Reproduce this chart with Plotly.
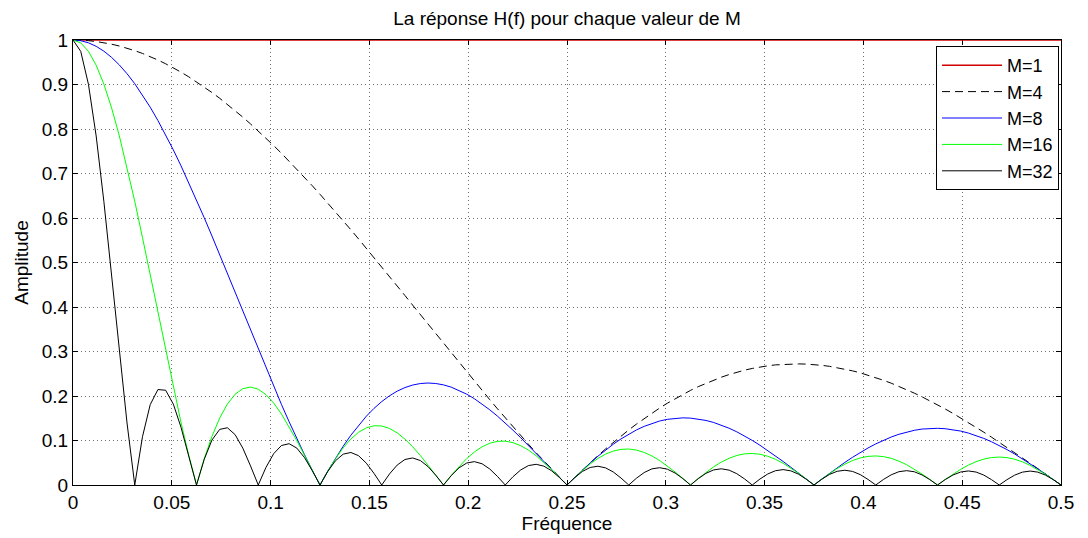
import plotly.graph_objects as go

# Frequency sampling grid (f = 0 .. 0.5)
freq = [
    0.0, 0.003906, 0.007813, 0.011719, 0.015625, 0.019531, 0.023438, 0.027344,
    0.03125, 0.035156, 0.039063, 0.042969, 0.046875, 0.050781, 0.054688, 0.058594,
    0.0625, 0.066406, 0.070313, 0.074219, 0.078125, 0.082031, 0.085938, 0.089844,
    0.09375, 0.097656, 0.101563, 0.105469, 0.109375, 0.113281, 0.117188, 0.121094,
    0.125, 0.128906, 0.132813, 0.136719, 0.140625, 0.144531, 0.148438, 0.152344,
    0.15625, 0.160156, 0.164063, 0.167969, 0.171875, 0.175781, 0.179688, 0.183594,
    0.1875, 0.191406, 0.195313, 0.199219, 0.203125, 0.207031, 0.210938, 0.214844,
    0.21875, 0.222656, 0.226563, 0.230469, 0.234375, 0.238281, 0.242188, 0.246094,
    0.25, 0.253906, 0.257813, 0.261719, 0.265625, 0.269531, 0.273438, 0.277344,
    0.28125, 0.285156, 0.289063, 0.292969, 0.296875, 0.300781, 0.304688, 0.308594,
    0.3125, 0.316406, 0.320313, 0.324219, 0.328125, 0.332031, 0.335938, 0.339844,
    0.34375, 0.347656, 0.351563, 0.355469, 0.359375, 0.363281, 0.367188, 0.371094,
    0.375, 0.378906, 0.382813, 0.386719, 0.390625, 0.394531, 0.398438, 0.402344,
    0.40625, 0.410156, 0.414063, 0.417969, 0.421875, 0.425781, 0.429688, 0.433594,
    0.4375, 0.441406, 0.445313, 0.449219, 0.453125, 0.457031, 0.460938, 0.464844,
    0.46875, 0.472656, 0.476563, 0.480469, 0.484375, 0.488281, 0.492188, 0.496094,
    0.5,
]

freq_m1 = [0.0, 0.5]
amp_m1 = [1.0, 1.0]

amp_m4 = [
    1.0, 0.9996, 0.9985, 0.9966, 0.9940, 0.9906, 0.9865, 0.9816,
    0.9761, 0.9698, 0.9627, 0.9550, 0.9466, 0.9375, 0.9277, 0.9172,
    0.9061, 0.8944, 0.8820, 0.8691, 0.8555, 0.8414, 0.8267, 0.8114,
    0.7957, 0.7794, 0.7627, 0.7455, 0.7278, 0.7098, 0.6913, 0.6725,
    0.6533, 0.6338, 0.6139, 0.5938, 0.5735, 0.5529, 0.5321, 0.5111,
    0.4900, 0.4687, 0.4473, 0.4259, 0.4043, 0.3828, 0.3612, 0.3397,
    0.3182, 0.2968, 0.2754, 0.2542, 0.2332, 0.2123, 0.1916, 0.1711,
    0.1508, 0.1308, 0.1111, 0.0917, 0.0726, 0.0539, 0.0355, 0.0176,
    0.0, 0.0171, 0.0338, 0.0501, 0.0658, 0.0811, 0.0958, 0.1101,
    0.1238, 0.1369, 0.1495, 0.1615, 0.1729, 0.1838, 0.1940, 0.2036,
    0.2126, 0.2210, 0.2287, 0.2359, 0.2423, 0.2482, 0.2534, 0.2580,
    0.2619, 0.2652, 0.2678, 0.2699, 0.2712, 0.2720, 0.2721, 0.2717,
    0.2706, 0.2689, 0.2667, 0.2638, 0.2604, 0.2565, 0.2520, 0.2469,
    0.2414, 0.2353, 0.2288, 0.2218, 0.2143, 0.2064, 0.1981, 0.1893,
    0.1802, 0.1708, 0.1610, 0.1508, 0.1404, 0.1297, 0.1187, 0.1075,
    0.0961, 0.0845, 0.0728, 0.0609, 0.0488, 0.0367, 0.0245, 0.0123,
    0.0,
]

amp_m8 = [
    1.0, 0.9984, 0.9937, 0.9858, 0.9749, 0.9609, 0.9440, 0.9243,
    0.9018, 0.8767, 0.8491, 0.8191, 0.7871, 0.7530, 0.7171, 0.6796,
    0.6407, 0.6006, 0.5596, 0.5177, 0.4753, 0.4325, 0.3897, 0.3469,
    0.3045, 0.2626, 0.2214, 0.1811, 0.1420, 0.1041, 0.0678, 0.0330,
    0.0, 0.0311, 0.0602, 0.0871, 0.1119, 0.1343, 0.1545, 0.1722,
    0.1875, 0.2004, 0.2109, 0.2189, 0.2246, 0.2280, 0.2292, 0.2281,
    0.2250, 0.2199, 0.2129, 0.2042, 0.1939, 0.1821, 0.1689, 0.1546,
    0.1393, 0.1232, 0.1063, 0.0890, 0.0712, 0.0533, 0.0354, 0.0175,
    0.0, 0.0171, 0.0337, 0.0495, 0.0646, 0.0787, 0.0917, 0.1036,
    0.1143, 0.1238, 0.1318, 0.1385, 0.1438, 0.1476, 0.1500, 0.1509,
    0.1503, 0.1484, 0.1451, 0.1405, 0.1346, 0.1276, 0.1195, 0.1103,
    0.1002, 0.0893, 0.0777, 0.0656, 0.0529, 0.0399, 0.0267, 0.0133,
    0.0, 0.0132, 0.0261, 0.0387, 0.0508, 0.0623, 0.0731, 0.0832,
    0.0924, 0.1006, 0.1078, 0.1140, 0.1191, 0.1229, 0.1257, 0.1272,
    0.1274, 0.1265, 0.1244, 0.1212, 0.1167, 0.1113, 0.1047, 0.0972,
    0.0888, 0.0796, 0.0696, 0.0590, 0.0479, 0.0363, 0.0244, 0.0123,
    0.0,
]

amp_m16 = [
    1.0, 0.9936, 0.9746, 0.9434, 0.9007, 0.8475, 0.7849, 0.7145,
    0.6376, 0.5561, 0.4717, 0.3861, 0.3012, 0.2186, 0.1399, 0.0666,
    0.0, 0.0589, 0.1092, 0.1503, 0.1819, 0.2039, 0.2165, 0.2201,
    0.2153, 0.2030, 0.1841, 0.1597, 0.1312, 0.0997, 0.0665, 0.0328,
    0.0, 0.0309, 0.0590, 0.0834, 0.1034, 0.1185, 0.1284, 0.1331,
    0.1326, 0.1271, 0.1171, 0.1032, 0.0860, 0.0662, 0.0447, 0.0224,
    0.0, 0.0216, 0.0415, 0.0593, 0.0742, 0.0858, 0.0939, 0.0981,
    0.0985, 0.0952, 0.0884, 0.0785, 0.0658, 0.0510, 0.0347, 0.0175,
    0.0, 0.0170, 0.0330, 0.0474, 0.0596, 0.0694, 0.0763, 0.0801,
    0.0809, 0.0785, 0.0732, 0.0653, 0.0550, 0.0428, 0.0293, 0.0148,
    0.0, 0.0145, 0.0283, 0.0408, 0.0515, 0.0601, 0.0664, 0.0700,
    0.0709, 0.0691, 0.0646, 0.0578, 0.0489, 0.0382, 0.0262, 0.0133,
    0.0, 0.0131, 0.0256, 0.0370, 0.0469, 0.0550, 0.0608, 0.0643,
    0.0653, 0.0638, 0.0599, 0.0537, 0.0456, 0.0357, 0.0245, 0.0125,
    0.0, 0.0124, 0.0243, 0.0352, 0.0447, 0.0524, 0.0582, 0.0617,
    0.0628, 0.0615, 0.0579, 0.0521, 0.0442, 0.0347, 0.0239, 0.0122,
    0.0,
]

amp_m32 = [
    1.0, 0.9745, 0.9004, 0.7844, 0.6369, 0.4708, 0.3004, 0.1394,
    0.0, 0.1085, 0.1805, 0.2145, 0.2130, 0.1817, 0.1293, 0.0653,
    0.0, 0.0577, 0.1009, 0.1250, 0.1286, 0.1133, 0.0829, 0.0429,
    0.0, 0.0396, 0.0704, 0.0887, 0.0928, 0.0829, 0.0614, 0.0322,
    0.0, 0.0304, 0.0545, 0.0693, 0.0731, 0.0658, 0.0491, 0.0260,
    0.0, 0.0248, 0.0448, 0.0573, 0.0608, 0.0550, 0.0413, 0.0219,
    0.0, 0.0211, 0.0384, 0.0493, 0.0525, 0.0477, 0.0359, 0.0191,
    0.0, 0.0186, 0.0338, 0.0436, 0.0465, 0.0424, 0.0320, 0.0171,
    0.0, 0.0167, 0.0305, 0.0394, 0.0422, 0.0385, 0.0292, 0.0156,
    0.0, 0.0153, 0.0280, 0.0363, 0.0389, 0.0356, 0.0270, 0.0145,
    0.0, 0.0143, 0.0262, 0.0339, 0.0364, 0.0334, 0.0254, 0.0137,
    0.0, 0.0135, 0.0247, 0.0321, 0.0346, 0.0318, 0.0242, 0.0130,
    0.0, 0.0129, 0.0237, 0.0308, 0.0332, 0.0305, 0.0233, 0.0125,
    0.0, 0.0125, 0.0229, 0.0299, 0.0322, 0.0297, 0.0226, 0.0122,
    0.0, 0.0122, 0.0224, 0.0292, 0.0316, 0.0291, 0.0223, 0.0120,
    0.0, 0.0120, 0.0222, 0.0289, 0.0313, 0.0289, 0.0221, 0.0120,
    0.0,
]

series_names = ["M=1", "M=4", "M=8", "M=16", "M=32"]

x_tick_vals = [0, 0.05, 0.1, 0.15, 0.2, 0.25, 0.3, 0.35, 0.4, 0.45, 0.5]
x_tick_text = ["0", "0.05", "0.1", "0.15", "0.2", "0.25", "0.3", "0.35", "0.4", "0.45", "0.5"]
y_tick_vals = [0, 0.1, 0.2, 0.3, 0.4, 0.5, 0.6, 0.7, 0.8, 0.9, 1]
y_tick_text = ["0", "0.1", "0.2", "0.3", "0.4", "0.5", "0.6", "0.7", "0.8", "0.9", "1"]

FONT = "Liberation Sans, Arial, Helvetica, sans-serif"
FS = 19

fig = go.Figure()
fig.add_trace(go.Scatter(x=freq_m1, y=amp_m1, mode="lines", name=series_names[0],
                         line=dict(color="#d00000", width=1.5)))
fig.add_trace(go.Scatter(x=freq, y=amp_m4, mode="lines", name=series_names[1],
                         line=dict(color="black", width=1, dash="8px,5px")))
fig.add_trace(go.Scatter(x=freq, y=amp_m8, mode="lines", name=series_names[2],
                         line=dict(color="#0000ff", width=1)))
fig.add_trace(go.Scatter(x=freq, y=amp_m16, mode="lines", name=series_names[3],
                         line=dict(color="#00ff00", width=1)))
fig.add_trace(go.Scatter(x=freq, y=amp_m32, mode="lines", name=series_names[4],
                         line=dict(color="black", width=1)))

axis_common = dict(
    showline=True, linecolor="black", linewidth=1, mirror="ticks",
    ticks="inside", ticklen=5, tickcolor="black", tickwidth=1,
    showgrid=True, gridcolor="#707070", gridwidth=1, griddash="1px,3px",
    zeroline=False, tickfont=dict(size=FS, color="black", family=FONT),
    layer="below traces", automargin=False,
)

# page is rendered with an 8px body margin, so the figure is sized to fit the window
fig.update_layout(
    width=1080, height=530,
    margin=dict(l=65, r=27, t=32, b=53),
    paper_bgcolor="white", plot_bgcolor="white",
    font=dict(family=FONT, color="black", size=FS),
    title=dict(text="La réponse H(f) pour chaque valeur de M", x=0.5, xref="paper",
               xanchor="center", y=1 - 4 / 530, yref="container", yanchor="top",
               pad=dict(t=0, b=0),
               font=dict(size=19, color="black", family=FONT)),
    xaxis=dict(range=[0, 0.5], tickvals=x_tick_vals, ticktext=x_tick_text,
               title=dict(text="Fréquence", font=dict(size=FS), standoff=2),
               **axis_common),
    yaxis=dict(range=[0, 1], tickvals=y_tick_vals, ticktext=y_tick_text,
               title=dict(text="Amplitude", font=dict(size=FS), standoff=8),
               **axis_common),
    legend=dict(x=0.998, y=0.9865, xanchor="right", yanchor="top",
                bgcolor="white", bordercolor="black", borderwidth=1,
                font=dict(size=18, color="black", family=FONT),
                itemwidth=60, tracegroupgap=0),
    showlegend=True,
)

fig.write_html("out.html")
